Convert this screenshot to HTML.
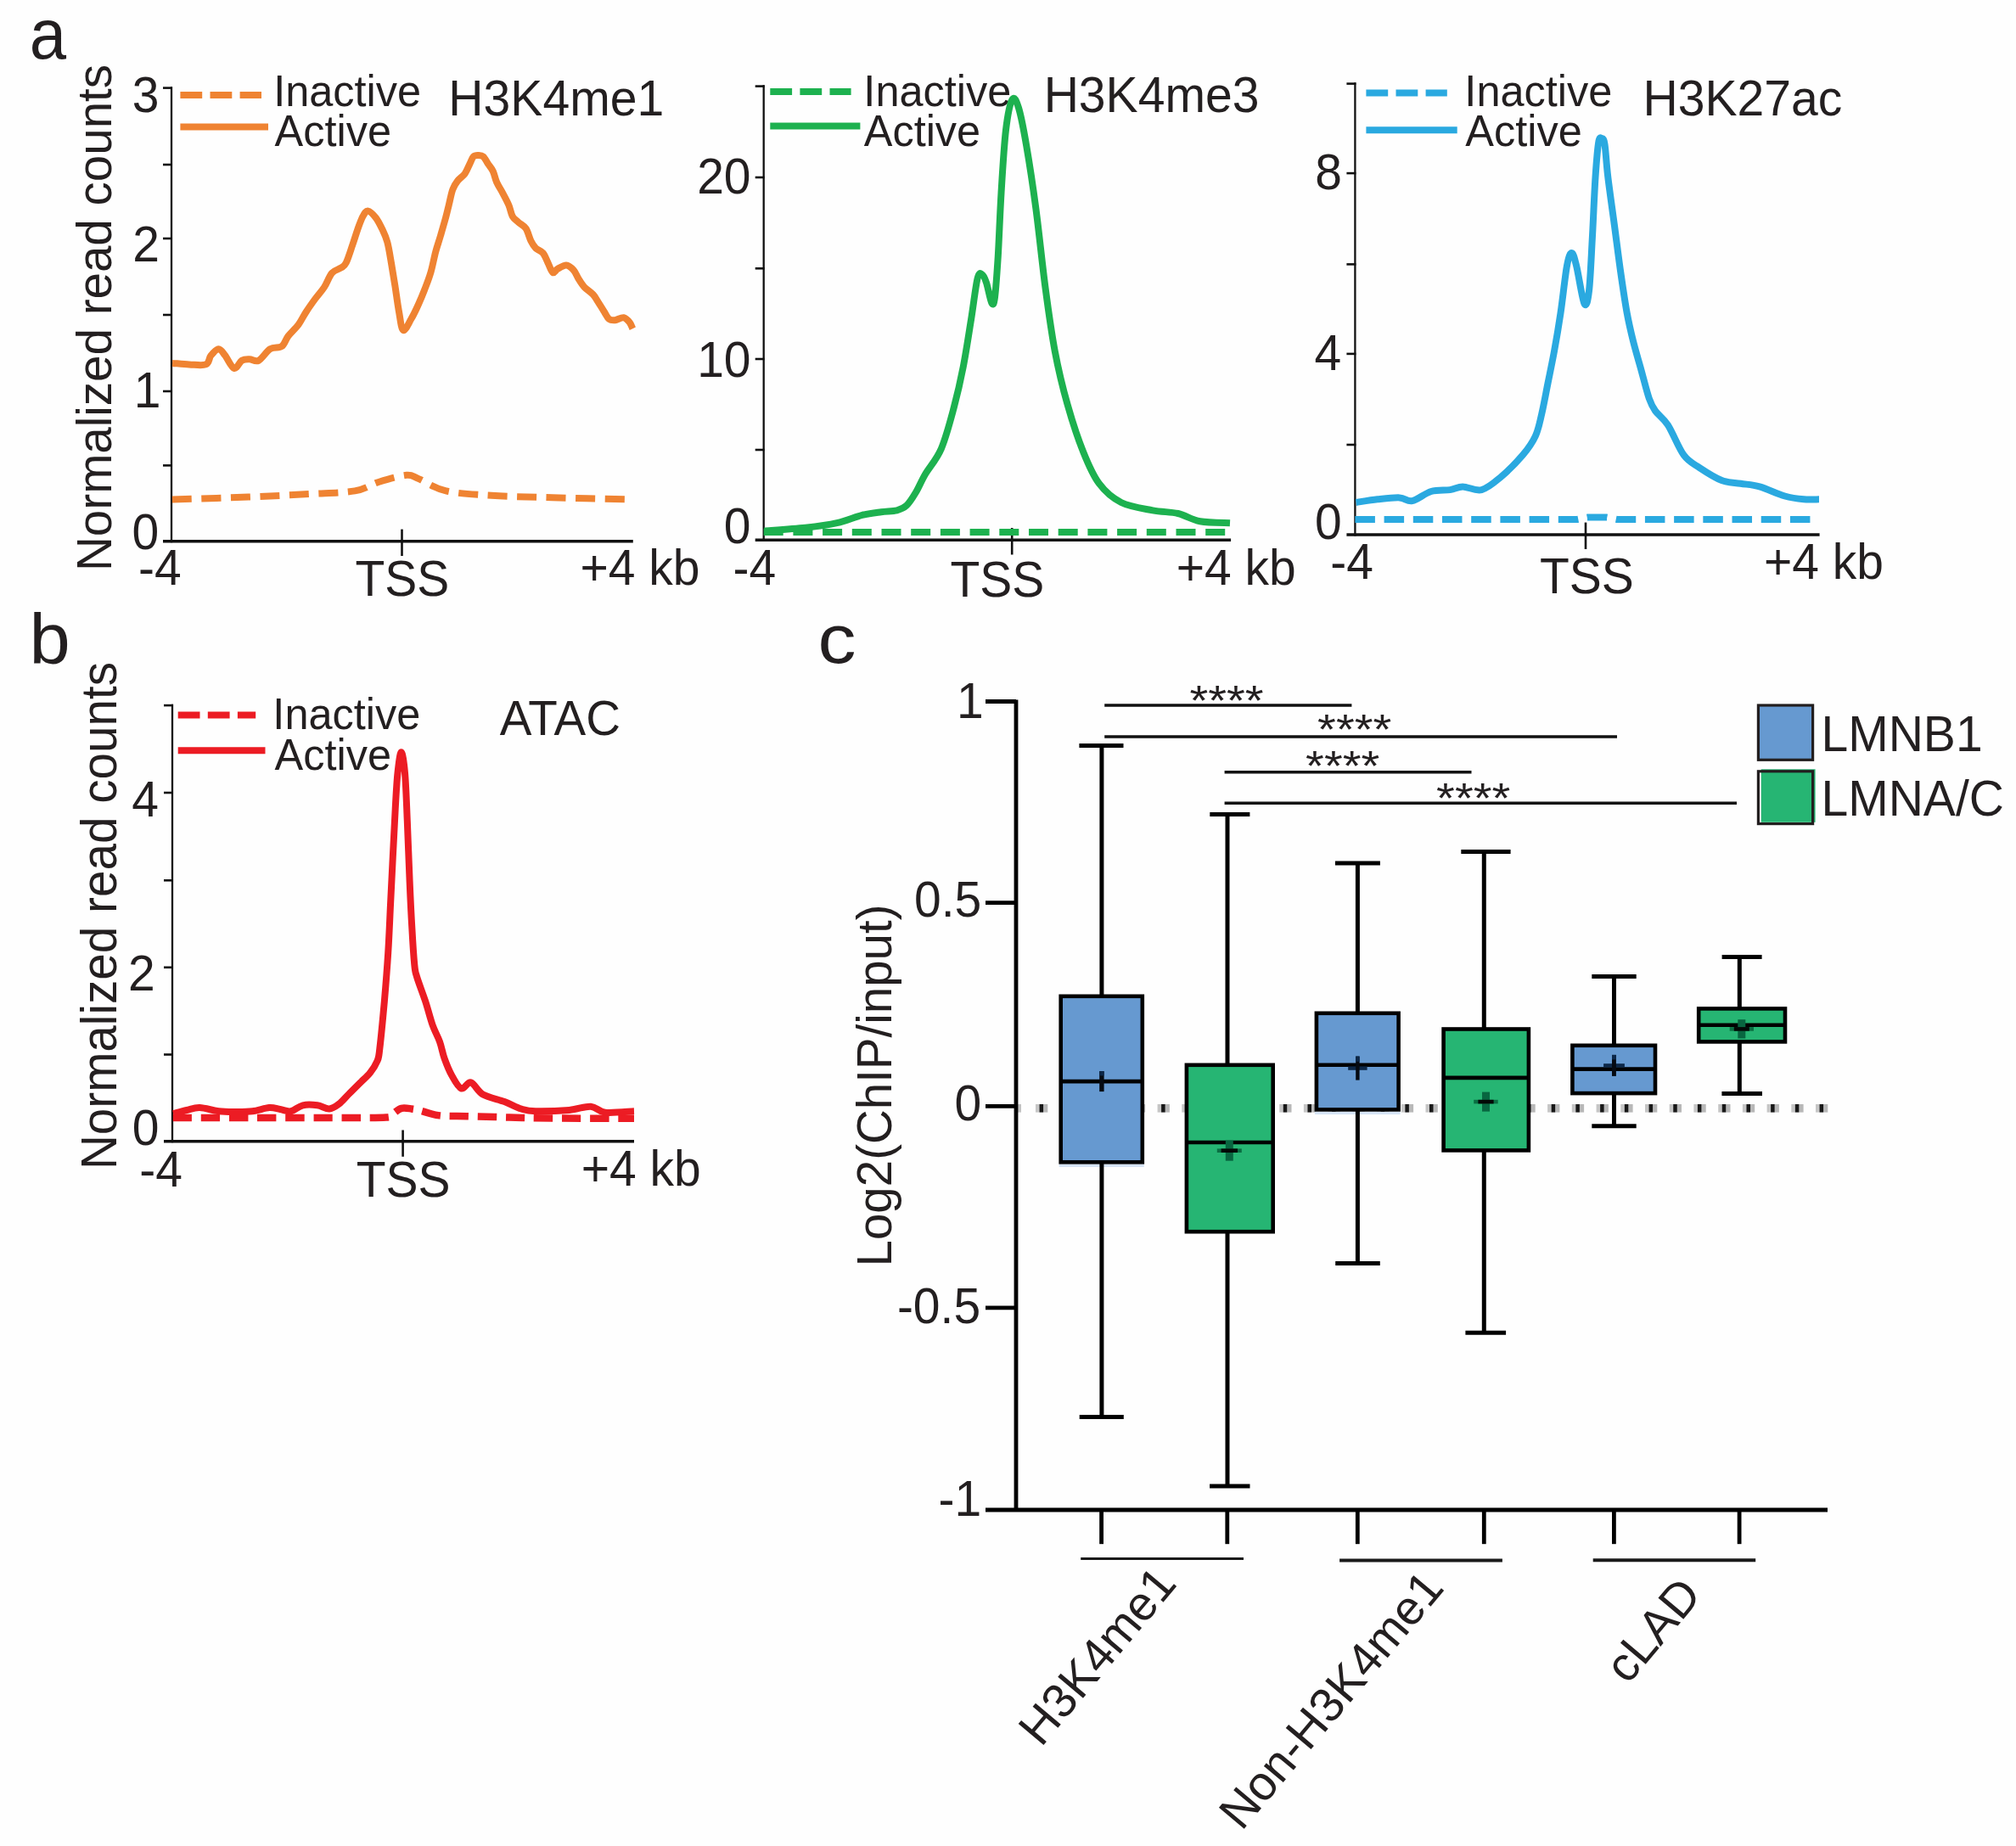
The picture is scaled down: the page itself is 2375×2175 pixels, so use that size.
<!DOCTYPE html>
<html><head><meta charset="utf-8"><title>Figure</title>
<style>html,body{margin:0;padding:0;background:#fff;}svg{display:block;}
text{font-family:"Liberation Sans", Arial, Helvetica, sans-serif;}</style></head>
<body><svg width="2375" height="2175" viewBox="0 0 2375 2175">
<rect width="2375" height="2175" fill="#fefefe"/>
<text transform="translate(38.10,68.50) scale(0.932,1.0)" x="-3.55" y="0" font-size="83.6" fill="#231f20">a</text>
<text transform="translate(40.10,781.60) scale(1.05,1.0)" x="-5.32" y="0" font-size="82.6" fill="#231f20">b</text>
<text transform="translate(967.20,781.40) scale(1.1,1.0)" x="-3.47" y="0" font-size="81.75" fill="#231f20">c</text>
<line x1="202" y1="102.3" x2="202" y2="639.2" stroke="#111" stroke-width="2.3" stroke-linecap="butt" />
<line x1="192" y1="637.7" x2="745.8" y2="637.7" stroke="#111" stroke-width="3.5" stroke-linecap="butt" />
<line x1="192" y1="103.6" x2="203" y2="103.6" stroke="#111" stroke-width="2.6" stroke-linecap="butt" />
<line x1="192" y1="194" x2="203" y2="194" stroke="#111" stroke-width="2.6" stroke-linecap="butt" />
<line x1="192" y1="281" x2="203" y2="281" stroke="#111" stroke-width="2.6" stroke-linecap="butt" />
<line x1="192" y1="371" x2="203" y2="371" stroke="#111" stroke-width="2.6" stroke-linecap="butt" />
<line x1="192" y1="461" x2="203" y2="461" stroke="#111" stroke-width="2.6" stroke-linecap="butt" />
<line x1="192" y1="548.4" x2="203" y2="548.4" stroke="#111" stroke-width="2.6" stroke-linecap="butt" />
<line x1="473.5" y1="623.6" x2="473.5" y2="655" stroke="#111" stroke-width="2.6" stroke-linecap="butt" />
<text transform="translate(185.00,131.80) scale(1.0,1.03)" x="-29.20" y="0" font-size="57" fill="#231f20">3</text>
<text transform="translate(185.00,307.50) scale(1.0,1.03)" x="-28.83" y="0" font-size="57" fill="#231f20">2</text>
<text transform="translate(185.00,647.20) scale(1.0,1.03)" x="-29.47" y="0" font-size="57" fill="#231f20">0</text>
<text transform="translate(157.72,480.00) scale(1.0,1.03)" x="0" y="0" font-size="57" fill="#231f20">1</text>
<text transform="translate(165.60,688.60) scale(1.0,1.03)" x="-2.53" y="0" font-size="57" fill="#231f20">-4</text>
<text transform="translate(419.80,702.20) scale(1.0,1.03)" x="-1.28" y="0" font-size="57" fill="#231f20">TSS</text>
<text transform="translate(686.20,688.60) scale(1.0,1.03)" x="-2.78" y="0" font-size="57" fill="#231f20">+4 kb</text>
<text transform="translate(131,374.45) rotate(-90) scale(1,1.03)" x="0" y="0" text-anchor="middle" font-size="56.55" fill="#231f20">Normalized read counts</text>
<path d="M212.4,112.0 L308.0,112.0" fill="none" stroke="#ef8332" stroke-width="8" stroke-linejoin="round" stroke-linecap="butt" stroke-dasharray="25.8 9.3" stroke-dashoffset="0"/>
<line x1="212.4" y1="149.5" x2="316" y2="149.5" stroke="#ef8332" stroke-width="8" stroke-linecap="butt" />
<text transform="translate(326.80,125.30) scale(1.0,1.03)" x="-4.66" y="0" font-size="50.5" fill="#231f20">Inactive</text>
<text transform="translate(323.60,172.20) scale(1.0,1.03)" x="-0.10" y="0" font-size="50.5" fill="#231f20">Active</text>
<text transform="translate(533.00,135.70) scale(1.0,1.04)" x="-4.68" y="0" font-size="57.1" fill="#231f20">H3K4me1</text>
<path d="M202.9,588.4 C217.9,587.9 266.1,586.7 293.0,585.6 C319.9,584.5 343.6,583.2 364.5,582.0 C385.4,580.8 404.4,580.8 418.1,578.4 C431.8,576.0 436.6,570.8 446.7,567.7 C456.8,564.6 471.1,560.4 478.9,559.8 C486.6,559.2 485.4,561.0 493.2,564.1 C500.9,567.2 511.1,575.1 525.4,578.4 C539.7,581.7 558.1,582.5 579.0,583.8 C599.9,585.1 622.8,585.5 650.5,586.3 C678.2,587.1 729.5,588.0 745.3,588.4" fill="none" stroke="#ef8332" stroke-width="8" stroke-linejoin="round" stroke-linecap="butt" stroke-dasharray="23 11.5" stroke-dashoffset="0"/>
<path d="M203.0,427.9 C206.3,428.1 216.2,429.1 222.8,429.4 C229.4,429.6 238.2,431.2 242.5,429.4 C246.8,427.6 246.0,421.8 248.5,418.8 C251.0,415.8 254.8,411.2 257.6,411.2 C260.4,411.2 262.2,415.0 265.2,418.8 C268.2,422.6 272.5,432.9 275.8,433.9 C279.1,434.9 281.9,426.6 284.9,424.8 C287.9,423.0 290.7,423.3 294.0,423.3 C297.3,423.3 300.6,426.8 304.7,424.8 C308.8,422.8 313.8,414.0 318.3,411.2 C322.9,408.4 328.5,410.6 332.0,408.1 C335.5,405.6 336.2,400.3 339.5,396.0 C342.8,391.7 348.1,387.1 351.7,382.3 C355.2,377.5 357.5,372.2 360.8,367.2 C364.1,362.1 367.9,356.8 371.4,352.0 C374.9,347.2 378.7,343.4 382.0,338.4 C385.3,333.3 387.8,325.5 391.1,321.7 C394.4,317.9 398.9,317.6 401.7,315.6 C404.5,313.6 405.5,314.1 407.8,309.5 C410.1,304.9 413.1,294.9 415.4,288.3 C417.7,281.7 419.4,275.7 421.4,270.1 C423.4,264.5 425.5,258.5 427.5,254.9 C429.5,251.3 431.1,248.3 433.6,248.6 C436.1,248.9 439.9,252.9 442.7,256.5 C445.5,260.1 448.0,265.3 450.3,270.1 C452.6,274.9 454.5,278.7 456.3,285.3 C458.1,291.9 459.4,300.9 460.9,309.5 C462.4,318.1 463.9,327.2 465.4,336.8 C466.9,346.4 468.4,358.5 470.0,367.2 C471.6,375.9 472.6,387.6 475.0,389.0 C477.4,390.4 481.4,380.9 484.4,375.8 C487.4,370.7 490.4,364.3 493.0,358.5 C495.6,352.7 497.8,347.4 500.2,341.2 C502.6,335.0 505.2,328.5 507.4,321.1 C509.6,313.7 511.3,303.9 513.2,296.7 C515.1,289.5 517.0,284.5 518.9,278.0 C520.8,271.5 523.0,264.0 524.7,257.8 C526.4,251.6 527.6,246.3 529.0,240.6 C530.4,234.8 531.6,227.9 533.3,223.3 C535.0,218.7 536.6,216.3 539.0,213.2 C541.4,210.1 545.3,207.9 547.7,204.6 C550.1,201.2 551.7,196.4 553.4,193.1 C555.1,189.8 556.0,186.2 557.7,184.5 C559.4,182.8 561.6,183.0 563.5,183.0 C565.4,183.0 567.4,182.8 569.3,184.5 C571.2,186.2 573.1,190.2 575.0,193.1 C576.9,196.0 579.1,198.1 580.8,201.7 C582.5,205.3 583.2,210.4 585.1,214.7 C587.0,219.0 589.9,223.0 592.3,227.6 C594.7,232.2 597.6,237.4 599.5,242.0 C601.4,246.6 601.9,251.6 603.8,254.9 C605.7,258.2 608.4,259.7 611.0,262.1 C613.6,264.5 617.2,265.7 619.6,269.3 C622.0,272.9 623.5,279.9 625.4,283.7 C627.3,287.5 628.7,289.9 631.1,292.3 C633.5,294.7 637.3,295.2 639.7,298.1 C642.1,301.0 643.6,305.8 645.5,309.6 C647.4,313.4 649.3,319.9 651.2,321.1 C653.1,322.3 654.4,318.2 657.0,316.8 C659.6,315.4 664.0,312.3 667.1,312.5 C670.2,312.7 673.3,315.6 675.7,318.2 C678.1,320.8 679.4,324.9 681.5,328.3 C683.6,331.7 685.7,335.3 688.6,338.4 C691.5,341.5 696.1,344.1 698.7,347.0 C701.4,349.9 702.3,352.2 704.5,355.6 C706.7,359.0 709.6,363.7 711.7,367.1 C713.9,370.5 715.2,374.1 717.4,375.8 C719.5,377.5 721.7,377.4 724.6,377.2 C727.5,376.9 731.8,373.8 734.7,374.3 C737.6,374.8 740.1,377.9 741.9,380.1 C743.7,382.3 744.7,386.1 745.3,387.3" fill="none" stroke="#ef8332" stroke-width="8" stroke-linejoin="round" stroke-linecap="butt"/>
<line x1="899.7" y1="100.3" x2="899.7" y2="637.7" stroke="#111" stroke-width="2.3" stroke-linecap="butt" />
<line x1="889.7" y1="636.2" x2="1450.1" y2="636.2" stroke="#111" stroke-width="3.5" stroke-linecap="butt" />
<line x1="889.7" y1="101.6" x2="900.7" y2="101.6" stroke="#111" stroke-width="2.6" stroke-linecap="butt" />
<line x1="889.7" y1="209" x2="900.7" y2="209" stroke="#111" stroke-width="2.6" stroke-linecap="butt" />
<line x1="889.7" y1="316.3" x2="900.7" y2="316.3" stroke="#111" stroke-width="2.6" stroke-linecap="butt" />
<line x1="889.7" y1="423" x2="900.7" y2="423" stroke="#111" stroke-width="2.6" stroke-linecap="butt" />
<line x1="889.7" y1="530" x2="900.7" y2="530" stroke="#111" stroke-width="2.6" stroke-linecap="butt" />
<line x1="1192.2" y1="622" x2="1192.2" y2="653.5" stroke="#111" stroke-width="2.6" stroke-linecap="butt" />
<text transform="translate(882.30,228.20) scale(1.0,1.03)" x="-61.17" y="0" font-size="57" fill="#231f20">20</text>
<text transform="translate(882.30,444.20) scale(1.0,1.03)" x="-61.17" y="0" font-size="57" fill="#231f20">10</text>
<text transform="translate(882.30,640.00) scale(1.0,1.03)" x="-29.47" y="0" font-size="57" fill="#231f20">0</text>
<text transform="translate(866.00,689.30) scale(1.0,1.03)" x="-2.53" y="0" font-size="57" fill="#231f20">-4</text>
<text transform="translate(1120.70,703.00) scale(1.0,1.03)" x="-1.28" y="0" font-size="57" fill="#231f20">TSS</text>
<text transform="translate(1388.40,689.30) scale(1.0,1.03)" x="-2.78" y="0" font-size="57" fill="#231f20">+4 kb</text>
<path d="M907.3,108.1 L1002.6,108.1" fill="none" stroke="#1db14f" stroke-width="8" stroke-linejoin="round" stroke-linecap="butt" stroke-dasharray="25.8 9.3" stroke-dashoffset="0"/>
<line x1="907.3" y1="148.4" x2="1013.4" y2="148.4" stroke="#1db14f" stroke-width="8" stroke-linecap="butt" />
<text transform="translate(1022.00,124.60) scale(1.0,1.03)" x="-4.66" y="0" font-size="50.5" fill="#231f20">Inactive</text>
<text transform="translate(1017.80,171.60) scale(1.0,1.03)" x="-0.10" y="0" font-size="50.5" fill="#231f20">Active</text>
<text transform="translate(1234.30,131.50) scale(1.0,1.04)" x="-4.68" y="0" font-size="57.1" fill="#231f20">H3K4me3</text>
<path d="M899.7,627.0 L1444.0,627.0" fill="none" stroke="#1db14f" stroke-width="8" stroke-linejoin="round" stroke-linecap="butt" stroke-dasharray="23 11.7" stroke-dashoffset="0"/>
<path d="M900.4,625.5 C908.5,624.9 934.5,623.3 948.8,621.8 C963.1,620.2 974.8,618.7 986.0,616.2 C997.2,613.7 1007.1,609.1 1015.8,606.9 C1024.5,604.7 1031.3,604.1 1038.1,603.2 C1044.9,602.3 1051.7,602.5 1056.7,601.3 C1061.7,600.0 1064.2,599.2 1067.9,595.7 C1071.6,592.2 1075.3,586.2 1079.0,580.0 C1082.7,573.8 1085.2,567.0 1090.2,558.5 C1095.2,550.0 1103.2,541.8 1108.8,528.8 C1114.4,515.8 1119.4,496.5 1123.7,480.4 C1128.0,464.3 1131.4,449.4 1134.8,432.0 C1138.2,414.6 1141.3,393.6 1144.1,376.2 C1146.9,358.8 1149.4,336.7 1151.6,327.9 C1153.8,319.1 1155.4,322.6 1157.1,323.5 C1158.8,324.4 1160.1,327.4 1162.0,333.0 C1163.9,338.6 1166.6,354.1 1168.3,357.0 C1170.0,359.9 1170.8,359.4 1172.0,350.2 C1173.2,341.0 1174.5,322.3 1175.8,301.8 C1177.0,281.3 1178.0,252.2 1179.5,227.4 C1181.0,202.6 1182.8,171.4 1185.0,153.0 C1187.2,134.6 1190.0,121.5 1192.5,117.2 C1195.0,112.9 1197.2,117.9 1200.0,127.0 C1202.8,136.1 1205.8,151.8 1209.2,171.6 C1212.6,191.4 1216.7,218.1 1220.4,246.0 C1224.1,273.9 1227.8,311.1 1231.5,339.0 C1235.2,366.9 1238.4,390.4 1242.7,413.4 C1247.0,436.3 1252.0,456.8 1257.6,476.7 C1263.2,496.6 1270.0,517.0 1276.2,532.5 C1282.4,548.0 1287.4,559.8 1294.8,569.7 C1302.2,579.6 1310.3,586.7 1320.8,592.0 C1331.3,597.3 1346.8,599.1 1358.0,601.3 C1369.2,603.5 1378.5,602.8 1387.8,605.0 C1397.1,607.2 1403.6,612.4 1413.8,614.3 C1424.0,616.2 1443.1,615.9 1449.0,616.2" fill="none" stroke="#1db14f" stroke-width="8" stroke-linejoin="round" stroke-linecap="butt"/>
<line x1="1596.4" y1="97.3" x2="1596.4" y2="631.6" stroke="#111" stroke-width="2.3" stroke-linecap="butt" />
<line x1="1586.4" y1="630.1" x2="2143.6" y2="630.1" stroke="#111" stroke-width="3.5" stroke-linecap="butt" />
<line x1="1586.4" y1="98.6" x2="1597.4" y2="98.6" stroke="#111" stroke-width="2.6" stroke-linecap="butt" />
<line x1="1586.4" y1="204.1" x2="1597.4" y2="204.1" stroke="#111" stroke-width="2.6" stroke-linecap="butt" />
<line x1="1586.4" y1="311.4" x2="1597.4" y2="311.4" stroke="#111" stroke-width="2.6" stroke-linecap="butt" />
<line x1="1586.4" y1="416.9" x2="1597.4" y2="416.9" stroke="#111" stroke-width="2.6" stroke-linecap="butt" />
<line x1="1586.4" y1="524" x2="1597.4" y2="524" stroke="#111" stroke-width="2.6" stroke-linecap="butt" />
<line x1="1868" y1="615.6" x2="1868" y2="647" stroke="#111" stroke-width="2.6" stroke-linecap="butt" />
<text transform="translate(1578.40,222.60) scale(1.0,1.03)" x="-29.22" y="0" font-size="57" fill="#231f20">8</text>
<text transform="translate(1578.40,436.00) scale(1.0,1.03)" x="-30.03" y="0" font-size="57" fill="#231f20">4</text>
<text transform="translate(1578.40,634.60) scale(1.0,1.03)" x="-29.47" y="0" font-size="57" fill="#231f20">0</text>
<text transform="translate(1569.80,681.70) scale(1.0,1.03)" x="-2.53" y="0" font-size="57" fill="#231f20">-4</text>
<text transform="translate(1815.30,698.60) scale(1.0,1.03)" x="-1.28" y="0" font-size="57" fill="#231f20">TSS</text>
<text transform="translate(2080.80,681.70) scale(1.0,1.03)" x="-2.78" y="0" font-size="57" fill="#231f20">+4 kb</text>
<path d="M1609.4,109.4 L1704.8,109.4" fill="none" stroke="#2aa9e0" stroke-width="8" stroke-linejoin="round" stroke-linecap="butt" stroke-dasharray="25.8 9.3" stroke-dashoffset="0"/>
<line x1="1609.4" y1="153.2" x2="1716.7" y2="153.2" stroke="#2aa9e0" stroke-width="8" stroke-linecap="butt" />
<text transform="translate(1730.00,124.60) scale(1.0,1.03)" x="-4.66" y="0" font-size="50.5" fill="#231f20">Inactive</text>
<text transform="translate(1726.40,171.60) scale(1.0,1.03)" x="-0.10" y="0" font-size="50.5" fill="#231f20">Active</text>
<text transform="translate(1940.10,136.30) scale(1.0,1.04)" x="-4.68" y="0" font-size="57.1" fill="#231f20">H3K27ac</text>
<path d="M1596.4,612.0 L1858.0,612.0 L1870.0,609.6 L1893.0,609.6 L1905.0,612.0 L2136.0,612.0" fill="none" stroke="#2aa9e0" stroke-width="8" stroke-linejoin="round" stroke-linecap="butt" stroke-dasharray="23.5 10.7" stroke-dashoffset="0"/>
<path d="M1597.5,592.0 C1601.7,591.4 1614.2,589.2 1622.8,588.3 C1631.3,587.4 1642.0,586.1 1648.8,586.4 C1655.6,586.7 1657.5,591.3 1663.7,590.1 C1669.9,588.9 1678.6,581.2 1686.0,579.0 C1693.4,576.8 1702.1,578.0 1708.3,577.1 C1714.5,576.2 1717.0,573.4 1723.2,573.4 C1729.4,573.4 1738.0,579.0 1745.5,577.1 C1753.0,575.2 1759.8,569.0 1767.9,562.2 C1776.0,555.4 1787.1,544.2 1793.9,536.2 C1800.7,528.2 1805.1,522.0 1808.8,513.9 C1812.5,505.8 1813.7,498.4 1816.2,487.8 C1818.7,477.2 1821.2,463.0 1823.7,450.6 C1826.2,438.2 1828.6,427.0 1831.1,413.4 C1833.6,399.8 1836.0,385.5 1838.5,368.8 C1841.0,352.1 1843.8,324.8 1846.0,313.0 C1848.2,301.2 1849.8,298.1 1851.6,298.1 C1853.4,298.1 1854.6,303.1 1857.1,313.0 C1859.6,322.9 1863.9,352.7 1866.4,357.6 C1868.9,362.6 1870.5,355.1 1872.0,342.7 C1873.5,330.3 1874.5,305.5 1875.7,283.2 C1877.0,260.9 1878.2,228.0 1879.5,208.8 C1880.8,189.6 1882.0,175.5 1883.2,167.9 C1884.4,160.3 1885.7,162.7 1886.9,163.0 C1888.1,163.3 1889.3,162.4 1890.5,170.0 C1891.7,177.6 1892.4,193.0 1894.3,208.8 C1896.2,224.6 1899.3,246.0 1901.8,264.6 C1904.3,283.2 1906.7,303.0 1909.2,320.4 C1911.7,337.8 1914.2,355.1 1916.7,368.8 C1919.2,382.5 1921.3,391.1 1924.1,402.3 C1926.9,413.5 1930.3,424.7 1933.4,435.8 C1936.5,446.9 1939.9,461.1 1942.7,469.2 C1945.5,477.2 1946.4,478.8 1950.1,484.1 C1953.8,489.4 1959.4,492.2 1965.0,500.9 C1970.6,509.6 1977.4,527.8 1983.6,536.2 C1989.8,544.6 1994.8,546.1 2002.2,551.1 C2009.7,556.1 2020.2,562.9 2028.3,566.0 C2036.4,569.1 2043.2,568.5 2050.6,569.7 C2058.0,570.9 2064.2,570.9 2072.9,573.4 C2081.6,575.9 2094.0,582.0 2102.7,584.5 C2111.4,587.0 2118.3,587.7 2125.0,588.3 C2131.7,588.9 2140.0,588.3 2143.0,588.3" fill="none" stroke="#2aa9e0" stroke-width="8" stroke-linejoin="round" stroke-linecap="butt"/>
<line x1="203" y1="829.8000000000001" x2="203" y2="1346.2" stroke="#111" stroke-width="2.3" stroke-linecap="butt" />
<line x1="193" y1="1344.7" x2="747" y2="1344.7" stroke="#111" stroke-width="3.5" stroke-linecap="butt" />
<line x1="193" y1="831.1" x2="204" y2="831.1" stroke="#111" stroke-width="2.6" stroke-linecap="butt" />
<line x1="193" y1="934" x2="204" y2="934" stroke="#111" stroke-width="2.6" stroke-linecap="butt" />
<line x1="193" y1="1037.3" x2="204" y2="1037.3" stroke="#111" stroke-width="2.6" stroke-linecap="butt" />
<line x1="193" y1="1139.8" x2="204" y2="1139.8" stroke="#111" stroke-width="2.6" stroke-linecap="butt" />
<line x1="193" y1="1242.5" x2="204" y2="1242.5" stroke="#111" stroke-width="2.6" stroke-linecap="butt" />
<line x1="474.6" y1="1331.5" x2="474.6" y2="1362.8" stroke="#111" stroke-width="2.6" stroke-linecap="butt" />
<text transform="translate(185.30,961.50) scale(1.0,1.03)" x="-30.03" y="0" font-size="57" fill="#231f20">4</text>
<text transform="translate(179.90,1166.50) scale(1.0,1.03)" x="-28.83" y="0" font-size="57" fill="#231f20">2</text>
<text transform="translate(185.30,1349.30) scale(1.0,1.03)" x="-29.47" y="0" font-size="57" fill="#231f20">0</text>
<text transform="translate(166.80,1397.60) scale(1.0,1.03)" x="-2.53" y="0" font-size="57" fill="#231f20">-4</text>
<text transform="translate(421.00,1410.20) scale(1.0,1.03)" x="-1.28" y="0" font-size="57" fill="#231f20">TSS</text>
<text transform="translate(687.40,1397.00) scale(1.0,1.03)" x="-2.78" y="0" font-size="57" fill="#231f20">+4 kb</text>
<text transform="translate(137,1079) rotate(-90) scale(1,1.03)" x="0" y="0" text-anchor="middle" font-size="56.65" fill="#231f20">Normalized read counts</text>
<path d="M209.7,842.6 L301.2,842.6" fill="none" stroke="#ec1c24" stroke-width="8" stroke-linejoin="round" stroke-linecap="butt" stroke-dasharray="25.8 9.3" stroke-dashoffset="0"/>
<line x1="209.7" y1="884.2" x2="312.5" y2="884.2" stroke="#ec1c24" stroke-width="8" stroke-linecap="butt" />
<text transform="translate(326.00,859.40) scale(1.0,1.03)" x="-4.66" y="0" font-size="50.5" fill="#231f20">Inactive</text>
<text transform="translate(323.60,907.00) scale(1.0,1.03)" x="-0.10" y="0" font-size="50.5" fill="#231f20">Active</text>
<text transform="translate(588.90,866.30) scale(1.0,1.03)" x="-0.11" y="0" font-size="56.5" fill="#231f20">ATAC</text>
<path d="M203.8,1317.0 C219.8,1317.0 267.3,1317.0 300.0,1317.0 C332.7,1317.0 374.2,1317.1 400.0,1317.0 C425.8,1316.9 444.5,1317.3 455.0,1316.5 C465.5,1315.7 460.0,1313.8 463.0,1312.0 C466.0,1310.2 469.3,1306.7 473.0,1305.8 C476.7,1304.9 481.3,1306.0 485.0,1306.5 C488.7,1307.0 489.5,1307.2 495.0,1308.5 C500.5,1309.8 508.8,1313.3 518.0,1314.4 C527.2,1315.5 536.3,1314.9 550.0,1315.2 C563.7,1315.5 583.3,1316.1 600.0,1316.5 C616.7,1316.9 625.5,1317.3 650.0,1317.5 C674.5,1317.7 730.8,1317.7 747.0,1317.7" fill="none" stroke="#ec1c24" stroke-width="8.5" stroke-linejoin="round" stroke-linecap="butt" stroke-dasharray="22.3 10.8" stroke-dashoffset="0"/>
<path d="M204.1,1312.2 C206.8,1311.5 214.8,1309.2 220.0,1308.0 C225.2,1306.8 228.9,1304.9 235.2,1305.1 C241.5,1305.3 250.9,1308.5 257.9,1309.3 C264.9,1310.1 270.4,1310.0 277.0,1310.0 C283.6,1310.0 290.7,1310.1 297.4,1309.3 C304.1,1308.5 311.8,1305.5 317.2,1305.1 C322.6,1304.7 325.8,1306.3 330.0,1307.0 C334.2,1307.7 338.2,1310.1 342.7,1309.3 C347.2,1308.5 351.6,1303.5 356.8,1302.3 C362.0,1301.1 368.6,1301.6 373.8,1302.3 C379.0,1303.0 383.7,1306.8 387.9,1306.5 C392.1,1306.2 395.4,1303.6 399.2,1300.8 C403.0,1298.0 406.2,1293.7 410.5,1289.5 C414.8,1285.3 420.4,1279.7 424.7,1275.4 C428.9,1271.2 432.7,1268.2 436.0,1264.0 C439.3,1259.8 442.6,1254.7 444.5,1250.0 C446.4,1245.3 445.9,1247.6 447.3,1235.8 C448.7,1224.0 451.2,1198.1 452.9,1179.3 C454.5,1160.5 456.0,1141.5 457.2,1122.7 C458.4,1103.9 459.1,1085.0 460.0,1066.2 C460.9,1047.4 461.9,1028.5 462.8,1009.6 C463.8,990.8 464.8,969.6 465.7,953.1 C466.6,936.6 467.3,921.8 468.5,910.7 C469.7,899.6 471.3,886.3 472.7,886.3 C474.1,886.3 475.8,897.2 477.0,910.7 C478.2,924.2 478.9,946.0 479.8,967.2 C480.7,988.4 481.7,1016.7 482.6,1037.9 C483.5,1059.1 484.4,1078.0 485.4,1094.5 C486.3,1111.0 487.4,1127.5 488.3,1136.9 C489.2,1146.3 489.0,1143.9 491.1,1151.0 C493.2,1158.1 497.9,1169.9 501.0,1179.3 C504.1,1188.7 506.7,1199.5 509.5,1207.5 C512.3,1215.5 515.6,1220.7 518.0,1227.3 C520.4,1233.9 521.2,1240.5 523.6,1247.1 C526.0,1253.7 528.8,1261.0 532.1,1266.9 C535.4,1272.8 539.6,1281.1 543.4,1282.5 C547.2,1283.9 550.5,1274.2 554.7,1275.4 C559.0,1276.6 562.3,1285.7 568.9,1289.5 C575.5,1293.3 586.8,1295.2 594.3,1298.0 C601.8,1300.8 608.0,1304.6 614.1,1306.5 C620.2,1308.4 621.6,1309.1 631.0,1309.3 C640.4,1309.5 659.8,1308.8 670.6,1307.9 C681.4,1307.0 688.9,1303.2 696.0,1303.7 C703.1,1304.2 704.5,1309.8 713.0,1310.7 C721.5,1311.6 741.3,1309.5 747.0,1309.3" fill="none" stroke="#ec1c24" stroke-width="8" stroke-linejoin="round" stroke-linecap="butt"/>
<text transform="translate(1049.6,1279) rotate(-90) scale(1,1.03)" x="0" y="0" text-anchor="middle" font-size="56.5" fill="#231f20">Log2(ChIP/input)</text>
<text transform="translate(1153.90,1080.40) scale(1.0,1.03)" x="-76.84" y="0" font-size="57" fill="#231f20">0.5</text>
<text transform="translate(1154.00,1319.50) scale(1.0,1.03)" x="-29.47" y="0" font-size="57" fill="#231f20">0</text>
<text transform="translate(1152.70,1558.60) scale(1.0,1.03)" x="-95.83" y="0" font-size="57" fill="#231f20">-0.5</text>
<text transform="translate(1127.02,846.40) scale(1.0,1.03)" x="0" y="0" font-size="57" fill="#231f20">1</text>
<text transform="translate(1105.50,1786.30) scale(1.0,1.03)" x="0" y="0" font-size="57" fill="#231f20">-1</text>
<rect x="1220.0" y="1301" width="4.5" height="9.6" fill="#c6c6c6"/><rect x="1229.1" y="1301" width="5.2" height="9.6" fill="#b8b8b8"/><rect x="1224.5" y="1301" width="4.6" height="9.6" fill="#181818"/>
<rect x="1248.7" y="1301" width="4.5" height="9.6" fill="#c6c6c6"/><rect x="1257.8" y="1301" width="5.2" height="9.6" fill="#b8b8b8"/><rect x="1253.2" y="1301" width="4.6" height="9.6" fill="#181818"/>
<rect x="1277.4" y="1301" width="4.5" height="9.6" fill="#c6c6c6"/><rect x="1286.5" y="1301" width="5.2" height="9.6" fill="#b8b8b8"/><rect x="1281.9" y="1301" width="4.6" height="9.6" fill="#181818"/>
<rect x="1306.2" y="1301" width="4.5" height="9.6" fill="#c6c6c6"/><rect x="1315.3" y="1301" width="5.2" height="9.6" fill="#b8b8b8"/><rect x="1310.7" y="1301" width="4.6" height="9.6" fill="#181818"/>
<rect x="1334.9" y="1301" width="4.5" height="9.6" fill="#c6c6c6"/><rect x="1344.0" y="1301" width="5.2" height="9.6" fill="#b8b8b8"/><rect x="1339.4" y="1301" width="4.6" height="9.6" fill="#181818"/>
<rect x="1363.6" y="1301" width="4.5" height="9.6" fill="#c6c6c6"/><rect x="1372.7" y="1301" width="5.2" height="9.6" fill="#b8b8b8"/><rect x="1368.1" y="1301" width="4.6" height="9.6" fill="#181818"/>
<rect x="1392.3" y="1301" width="4.5" height="9.6" fill="#c6c6c6"/><rect x="1401.4" y="1301" width="5.2" height="9.6" fill="#b8b8b8"/><rect x="1396.8" y="1301" width="4.6" height="9.6" fill="#181818"/>
<rect x="1421.0" y="1301" width="4.5" height="9.6" fill="#c6c6c6"/><rect x="1430.1" y="1301" width="5.2" height="9.6" fill="#b8b8b8"/><rect x="1425.5" y="1301" width="4.6" height="9.6" fill="#181818"/>
<rect x="1449.8" y="1301" width="4.5" height="9.6" fill="#c6c6c6"/><rect x="1458.9" y="1301" width="5.2" height="9.6" fill="#b8b8b8"/><rect x="1454.3" y="1301" width="4.6" height="9.6" fill="#181818"/>
<rect x="1478.5" y="1301" width="4.5" height="9.6" fill="#c6c6c6"/><rect x="1487.6" y="1301" width="5.2" height="9.6" fill="#b8b8b8"/><rect x="1483.0" y="1301" width="4.6" height="9.6" fill="#181818"/>
<rect x="1507.2" y="1301" width="4.5" height="9.6" fill="#c6c6c6"/><rect x="1516.3" y="1301" width="5.2" height="9.6" fill="#b8b8b8"/><rect x="1511.7" y="1301" width="4.6" height="9.6" fill="#181818"/>
<rect x="1535.9" y="1301" width="4.5" height="9.6" fill="#c6c6c6"/><rect x="1545.0" y="1301" width="5.2" height="9.6" fill="#b8b8b8"/><rect x="1540.4" y="1301" width="4.6" height="9.6" fill="#181818"/>
<rect x="1564.6" y="1301" width="4.5" height="9.6" fill="#c6c6c6"/><rect x="1573.7" y="1301" width="5.2" height="9.6" fill="#b8b8b8"/><rect x="1569.1" y="1301" width="4.6" height="9.6" fill="#181818"/>
<rect x="1593.4" y="1301" width="4.5" height="9.6" fill="#c6c6c6"/><rect x="1602.5" y="1301" width="5.2" height="9.6" fill="#b8b8b8"/><rect x="1597.9" y="1301" width="4.6" height="9.6" fill="#181818"/>
<rect x="1622.1" y="1301" width="4.5" height="9.6" fill="#c6c6c6"/><rect x="1631.2" y="1301" width="5.2" height="9.6" fill="#b8b8b8"/><rect x="1626.6" y="1301" width="4.6" height="9.6" fill="#181818"/>
<rect x="1650.8" y="1301" width="4.5" height="9.6" fill="#c6c6c6"/><rect x="1659.9" y="1301" width="5.2" height="9.6" fill="#b8b8b8"/><rect x="1655.3" y="1301" width="4.6" height="9.6" fill="#181818"/>
<rect x="1679.5" y="1301" width="4.5" height="9.6" fill="#c6c6c6"/><rect x="1688.6" y="1301" width="5.2" height="9.6" fill="#b8b8b8"/><rect x="1684.0" y="1301" width="4.6" height="9.6" fill="#181818"/>
<rect x="1708.2" y="1301" width="4.5" height="9.6" fill="#c6c6c6"/><rect x="1717.3" y="1301" width="5.2" height="9.6" fill="#b8b8b8"/><rect x="1712.7" y="1301" width="4.6" height="9.6" fill="#181818"/>
<rect x="1737.0" y="1301" width="4.5" height="9.6" fill="#c6c6c6"/><rect x="1746.1" y="1301" width="5.2" height="9.6" fill="#b8b8b8"/><rect x="1741.5" y="1301" width="4.6" height="9.6" fill="#181818"/>
<rect x="1765.7" y="1301" width="4.5" height="9.6" fill="#c6c6c6"/><rect x="1774.8" y="1301" width="5.2" height="9.6" fill="#b8b8b8"/><rect x="1770.2" y="1301" width="4.6" height="9.6" fill="#181818"/>
<rect x="1794.4" y="1301" width="4.5" height="9.6" fill="#c6c6c6"/><rect x="1803.5" y="1301" width="5.2" height="9.6" fill="#b8b8b8"/><rect x="1798.9" y="1301" width="4.6" height="9.6" fill="#181818"/>
<rect x="1823.1" y="1301" width="4.5" height="9.6" fill="#c6c6c6"/><rect x="1832.2" y="1301" width="5.2" height="9.6" fill="#b8b8b8"/><rect x="1827.6" y="1301" width="4.6" height="9.6" fill="#181818"/>
<rect x="1851.8" y="1301" width="4.5" height="9.6" fill="#c6c6c6"/><rect x="1860.9" y="1301" width="5.2" height="9.6" fill="#b8b8b8"/><rect x="1856.3" y="1301" width="4.6" height="9.6" fill="#181818"/>
<rect x="1880.6" y="1301" width="4.5" height="9.6" fill="#c6c6c6"/><rect x="1889.7" y="1301" width="5.2" height="9.6" fill="#b8b8b8"/><rect x="1885.1" y="1301" width="4.6" height="9.6" fill="#181818"/>
<rect x="1909.3" y="1301" width="4.5" height="9.6" fill="#c6c6c6"/><rect x="1918.4" y="1301" width="5.2" height="9.6" fill="#b8b8b8"/><rect x="1913.8" y="1301" width="4.6" height="9.6" fill="#181818"/>
<rect x="1938.0" y="1301" width="4.5" height="9.6" fill="#c6c6c6"/><rect x="1947.1" y="1301" width="5.2" height="9.6" fill="#b8b8b8"/><rect x="1942.5" y="1301" width="4.6" height="9.6" fill="#181818"/>
<rect x="1966.7" y="1301" width="4.5" height="9.6" fill="#c6c6c6"/><rect x="1975.8" y="1301" width="5.2" height="9.6" fill="#b8b8b8"/><rect x="1971.2" y="1301" width="4.6" height="9.6" fill="#181818"/>
<rect x="1995.4" y="1301" width="4.5" height="9.6" fill="#c6c6c6"/><rect x="2004.5" y="1301" width="5.2" height="9.6" fill="#b8b8b8"/><rect x="1999.9" y="1301" width="4.6" height="9.6" fill="#181818"/>
<rect x="2024.2" y="1301" width="4.5" height="9.6" fill="#c6c6c6"/><rect x="2033.3" y="1301" width="5.2" height="9.6" fill="#b8b8b8"/><rect x="2028.7" y="1301" width="4.6" height="9.6" fill="#181818"/>
<rect x="2052.9" y="1301" width="4.5" height="9.6" fill="#c6c6c6"/><rect x="2062.0" y="1301" width="5.2" height="9.6" fill="#b8b8b8"/><rect x="2057.4" y="1301" width="4.6" height="9.6" fill="#181818"/>
<rect x="2081.6" y="1301" width="4.5" height="9.6" fill="#c6c6c6"/><rect x="2090.7" y="1301" width="5.2" height="9.6" fill="#b8b8b8"/><rect x="2086.1" y="1301" width="4.6" height="9.6" fill="#181818"/>
<rect x="2110.3" y="1301" width="4.5" height="9.6" fill="#c6c6c6"/><rect x="2119.4" y="1301" width="5.2" height="9.6" fill="#b8b8b8"/><rect x="2114.8" y="1301" width="4.6" height="9.6" fill="#181818"/>
<rect x="2139.0" y="1301" width="4.5" height="9.6" fill="#c6c6c6"/><rect x="2148.1" y="1301" width="5.2" height="9.6" fill="#b8b8b8"/><rect x="2143.5" y="1301" width="4.6" height="9.6" fill="#181818"/>
<rect x="1198" y="1301" width="5" height="9.6" fill="#c4c4c4"/>
<line x1="1197" y1="824.4" x2="1197" y2="1781" stroke="#000" stroke-width="4.8" stroke-linecap="butt" />
<line x1="1161" y1="1779" x2="2153" y2="1779" stroke="#000" stroke-width="4.8" stroke-linecap="butt" />
<line x1="1161" y1="826.5" x2="1197" y2="826.5" stroke="#000" stroke-width="4.8" stroke-linecap="butt" />
<line x1="1161" y1="1063.7" x2="1197" y2="1063.7" stroke="#000" stroke-width="4.8" stroke-linecap="butt" />
<line x1="1161" y1="1303.3" x2="1197" y2="1303.3" stroke="#000" stroke-width="4.8" stroke-linecap="butt" />
<line x1="1161" y1="1540.8" x2="1197" y2="1540.8" stroke="#000" stroke-width="4.8" stroke-linecap="butt" />
<line x1="1297.6" y1="1779" x2="1297.6" y2="1819.2" stroke="#000" stroke-width="4.8" stroke-linecap="butt" />
<line x1="1445.8" y1="1779" x2="1445.8" y2="1819.2" stroke="#000" stroke-width="4.8" stroke-linecap="butt" />
<line x1="1599.3" y1="1779" x2="1599.3" y2="1819.2" stroke="#000" stroke-width="4.8" stroke-linecap="butt" />
<line x1="1748.3" y1="1779" x2="1748.3" y2="1819.2" stroke="#000" stroke-width="4.8" stroke-linecap="butt" />
<line x1="1901.4" y1="1779" x2="1901.4" y2="1819.2" stroke="#000" stroke-width="4.8" stroke-linecap="butt" />
<line x1="2049.1" y1="1779" x2="2049.1" y2="1819.2" stroke="#000" stroke-width="4.8" stroke-linecap="butt" />
<line x1="1273.2" y1="1836.5" x2="1465" y2="1836.5" stroke="#1a1a1a" stroke-width="2.8" stroke-linecap="butt" />
<line x1="1578.1" y1="1838.4" x2="1769.9" y2="1838.4" stroke="#1a1a1a" stroke-width="4.0" stroke-linecap="butt" />
<line x1="1876.7" y1="1838.2" x2="2068.2" y2="1838.2" stroke="#1a1a1a" stroke-width="4.0" stroke-linecap="butt" />
<rect x="1247.7" y="1371.5" width="100.09999999999991" height="3.5" fill="#d6e4f5"/>
<line x1="1297.9" y1="878.6" x2="1297.9" y2="1173.8" stroke="#000" stroke-width="5.0" stroke-linecap="butt" />
<line x1="1297.9" y1="1369.3" x2="1297.9" y2="1669.6" stroke="#000" stroke-width="5.0" stroke-linecap="butt" />
<line x1="1271.4" y1="878.6" x2="1323.5" y2="878.6" stroke="#000" stroke-width="5.0" stroke-linecap="butt" />
<line x1="1271.7" y1="1669.6" x2="1323.8" y2="1669.6" stroke="#000" stroke-width="5.0" stroke-linecap="butt" />
<rect x="1249.7" y="1173.8" width="96.09999999999991" height="195.5" fill="#6699d0" stroke="#000" stroke-width="4.6"/>
<line x1="1249.7" y1="1274.1" x2="1345.8" y2="1274.1" stroke="#000" stroke-width="4.6" stroke-linecap="butt" />
<rect x="1295.2" y="1262.1" width="5.4" height="24" fill="#050a12"/>
<rect x="1295.2" y="1262.1" width="5.4" height="5.3" fill="#0c2748"/>
<line x1="1446.0" y1="959.5" x2="1446.0" y2="1254.8" stroke="#000" stroke-width="5.0" stroke-linecap="butt" />
<line x1="1446.0" y1="1451.2" x2="1446.0" y2="1751.0" stroke="#000" stroke-width="5.0" stroke-linecap="butt" />
<line x1="1425.3" y1="959.5" x2="1472.4" y2="959.5" stroke="#000" stroke-width="5.0" stroke-linecap="butt" />
<line x1="1425.1" y1="1751.0" x2="1472.5" y2="1751.0" stroke="#000" stroke-width="5.0" stroke-linecap="butt" />
<rect x="1397.9" y="1254.8" width="101.79999999999995" height="196.4000000000001" fill="#26b573" stroke="#000" stroke-width="4.6"/>
<line x1="1397.9" y1="1346.0" x2="1499.7" y2="1346.0" stroke="#000" stroke-width="4.6" stroke-linecap="butt" />
<rect x="1443.8" y="1343.7" width="9" height="24" fill="#086640"/>
<rect x="1433.8" y="1353.4" width="29" height="4.6" fill="#0a6e42"/>
<rect x="1438.6" y="1353.4" width="19.4" height="4.6" fill="#030806"/>
<rect x="1548.9" y="1309.6000000000001" width="100.69999999999982" height="3.5" fill="#d6e4f5"/>
<line x1="1599.4" y1="1016.9" x2="1599.4" y2="1193.8" stroke="#000" stroke-width="5.0" stroke-linecap="butt" />
<line x1="1599.4" y1="1307.4" x2="1599.4" y2="1488.6" stroke="#000" stroke-width="5.0" stroke-linecap="butt" />
<line x1="1572.9" y1="1016.9" x2="1625.9" y2="1016.9" stroke="#000" stroke-width="5.0" stroke-linecap="butt" />
<line x1="1573.2" y1="1488.6" x2="1625.8" y2="1488.6" stroke="#000" stroke-width="5.0" stroke-linecap="butt" />
<rect x="1550.9" y="1193.8" width="96.69999999999982" height="113.60000000000014" fill="#6699d0" stroke="#000" stroke-width="4.6"/>
<line x1="1550.9" y1="1254.8" x2="1647.6" y2="1254.8" stroke="#000" stroke-width="4.6" stroke-linecap="butt" />
<rect x="1588.2" y="1256.4" width="22.4" height="4.4" fill="#0c2748"/>
<rect x="1597.2" y="1244.6" width="4.4" height="28" fill="#050a12"/>
<rect x="1597.2" y="1244.6" width="4.4" height="6.2" fill="#0c2748"/>
<line x1="1748.3" y1="1003.5" x2="1748.3" y2="1212.5" stroke="#000" stroke-width="5.0" stroke-linecap="butt" />
<line x1="1748.3" y1="1355.4" x2="1748.3" y2="1570.3" stroke="#000" stroke-width="5.0" stroke-linecap="butt" />
<line x1="1721.3" y1="1003.5" x2="1779.6" y2="1003.5" stroke="#000" stroke-width="5.0" stroke-linecap="butt" />
<line x1="1726.4" y1="1570.3" x2="1774.1" y2="1570.3" stroke="#000" stroke-width="5.0" stroke-linecap="butt" />
<rect x="1700.6" y="1212.5" width="100.30000000000018" height="142.9000000000001" fill="#26b573" stroke="#000" stroke-width="4.6"/>
<line x1="1700.6" y1="1269.9" x2="1800.9" y2="1269.9" stroke="#000" stroke-width="4.6" stroke-linecap="butt" />
<rect x="1746.0" y="1286.6" width="9" height="23" fill="#086640"/>
<rect x="1736.2" y="1295.8" width="28.5" height="4.6" fill="#0a6e42"/>
<rect x="1741.4" y="1295.8" width="18.2" height="4.6" fill="#030806"/>
<line x1="1901.5" y1="1150.6" x2="1901.5" y2="1231.8" stroke="#000" stroke-width="5.0" stroke-linecap="butt" />
<line x1="1901.5" y1="1288.1" x2="1901.5" y2="1326.8" stroke="#000" stroke-width="5.0" stroke-linecap="butt" />
<line x1="1875.3" y1="1150.6" x2="1927.7" y2="1150.6" stroke="#000" stroke-width="5.0" stroke-linecap="butt" />
<line x1="1875.3" y1="1326.8" x2="1927.7" y2="1326.8" stroke="#000" stroke-width="5.0" stroke-linecap="butt" />
<rect x="1852.4" y="1231.8" width="97.59999999999991" height="56.299999999999955" fill="#6699d0" stroke="#000" stroke-width="4.6"/>
<line x1="1852.4" y1="1259.6" x2="1950" y2="1259.6" stroke="#000" stroke-width="4.6" stroke-linecap="butt" />
<rect x="1889.1" y="1253.2" width="24.8" height="4.4" fill="#0c2748"/>
<rect x="1899.0" y="1242.9" width="4.9" height="25" fill="#050a12"/>
<rect x="1899.0" y="1242.9" width="4.9" height="5.5" fill="#0c2748"/>
<line x1="2049.3" y1="1127.4" x2="2049.3" y2="1188.4" stroke="#000" stroke-width="5.0" stroke-linecap="butt" />
<line x1="2049.3" y1="1227.4" x2="2049.3" y2="1288.4" stroke="#000" stroke-width="5.0" stroke-linecap="butt" />
<line x1="2028.6" y1="1127.4" x2="2075.6" y2="1127.4" stroke="#000" stroke-width="5.0" stroke-linecap="butt" />
<line x1="2028.4" y1="1288.4" x2="2076.0" y2="1288.4" stroke="#000" stroke-width="5.0" stroke-linecap="butt" />
<rect x="2001.2" y="1188.4" width="101.79999999999995" height="39.0" fill="#26b573" stroke="#000" stroke-width="4.6"/>
<line x1="2001.2" y1="1207.7" x2="2103" y2="1207.7" stroke="#000" stroke-width="4.6" stroke-linecap="butt" />
<rect x="2047.3" y="1201.2" width="9" height="22.3" fill="#086640"/>
<rect x="2037.7" y="1210.1" width="28.3" height="4.6" fill="#0a6e42"/>
<rect x="2042.8" y="1210.1" width="18" height="4.6" fill="#030806"/>
<line x1="1301.2" y1="831" x2="1592.4" y2="831" stroke="#111" stroke-width="3.6" stroke-linecap="butt" />
<text transform="translate(1402.40,842.50) scale(1.0,0.88)" x="-0.90" y="0" font-size="56" fill="#231f20">****</text>
<line x1="1301.2" y1="868" x2="1905" y2="868" stroke="#111" stroke-width="3.6" stroke-linecap="butt" />
<text transform="translate(1553.00,877.20) scale(1.0,0.88)" x="-0.90" y="0" font-size="56" fill="#231f20">****</text>
<line x1="1442.6" y1="909.8" x2="1733.5" y2="909.8" stroke="#111" stroke-width="3.6" stroke-linecap="butt" />
<text transform="translate(1539.00,919.80) scale(1.0,0.88)" x="-0.90" y="0" font-size="56" fill="#231f20">****</text>
<line x1="1442.6" y1="946.3" x2="2046" y2="946.3" stroke="#111" stroke-width="3.6" stroke-linecap="butt" />
<text transform="translate(1693.00,957.50) scale(1.0,0.88)" x="-0.90" y="0" font-size="56" fill="#231f20">****</text>
<rect x="2071.4" y="831" width="64.2" height="64.3" fill="#6699d0" stroke="#221e1f" stroke-width="3.2"/>
<rect x="2074.7" y="906.3" width="63.9" height="62.5" fill="#26b573"/>
<rect x="2071.4" y="908.8" width="64.2" height="61.8" fill="none" stroke="#221e1f" stroke-width="3.2"/>
<text transform="translate(2150.20,884.50) scale(1.0,1.03)" x="-4.68" y="0" font-size="57" fill="#231f20">LMNB1</text>
<text transform="translate(2150.20,961.40) scale(1.0,1.03)" x="-4.68" y="0" font-size="57" fill="#231f20">LMNA/C</text>
<text transform="translate(1388,1867) rotate(-50)" x="0" y="0" text-anchor="end" font-size="56.5" fill="#231f20">H3K4me1</text>
<text transform="translate(1703,1872) rotate(-50)" x="0" y="0" text-anchor="end" font-size="56.5" fill="#231f20">Non-H3K4me1</text>
<text transform="translate(2006.4,1880) rotate(-50)" x="0" y="0" text-anchor="end" font-size="56.5" fill="#231f20">cLAD</text>
</svg></body></html>
